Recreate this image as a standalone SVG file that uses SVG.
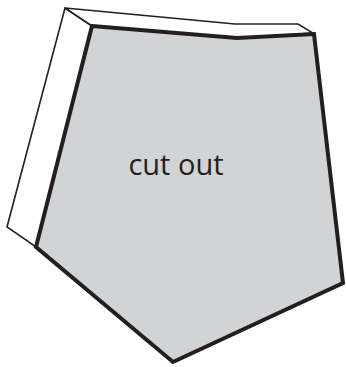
<svg xmlns="http://www.w3.org/2000/svg" width="346" height="367" viewBox="0 0 346 367">
<style>
.thin{fill:#fff;stroke:#231f20;stroke-width:1.6;stroke-linejoin:miter}
.main{fill:#d1d3d4;stroke:#231f20;stroke-width:4;stroke-linejoin:miter}
.lbl{font-family:"Open Sans","Liberation Sans",sans-serif;font-size:29px;fill:#231f20}
</style>
<g id="side">
<polygon class="thin" points="65,8 92,26 36,247 7,227"/>
<polygon class="thin" points="65,8 235,24 298,24 313,33 237,38 92,26"/>
</g>
<g id="cutout">
<polygon class="main" points="92,26 237,38 314,34 343,283 173,362 36,247"/>
<text class="lbl" x="176" y="175" text-anchor="middle">cut out</text>
</g>
</svg>
